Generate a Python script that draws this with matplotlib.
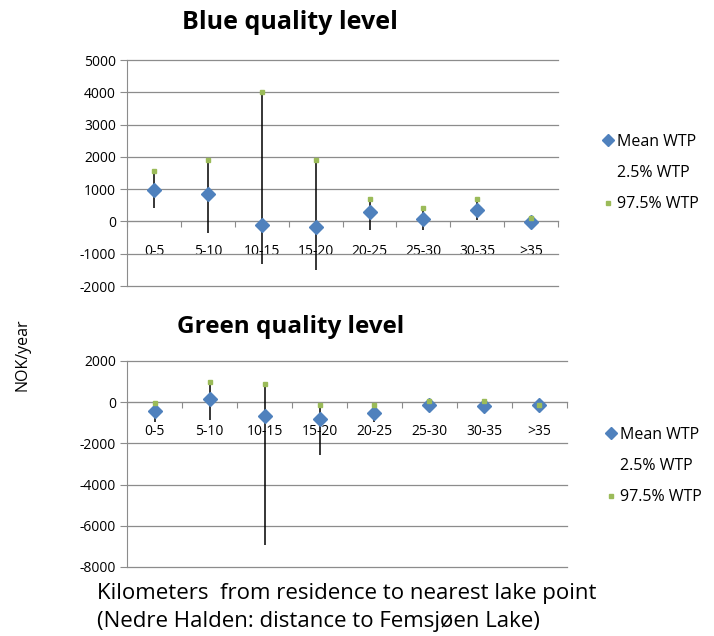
import numpy as np
import matplotlib
matplotlib.use('Agg')
import matplotlib.pyplot as plt
from matplotlib.lines import Line2D

plt.rcParams['font.family'] = ['Open Sans', 'DejaVu Sans']
plt.rcParams['axes.unicode_minus'] = False

cats = ['0-5', '5-10', '10-15', '15-20', '20-25', '25-30', '30-35', '>35']

# blue quality level (NOK/year)
blue_mean = [960, 840, -120, -170, 290, 90, 340, -20]
blue_lo = [420, -360, -1330, -1500, -250, -250, 50, -40]
blue_hi = [1550, 1910, 4000, 1910, 700, 410, 700, 100]

# green quality level (NOK/year)
green_mean = [-430, 170, -690, -830, -510, -150, -180, -150]
green_lo = [-960, -850, -6950, -2550, -960, -310, -310, -300]
green_hi = [-40, 980, 900, -120, -120, 40, 40, -120]

blue_ticks = [-2000, -1000, 0, 1000, 2000, 3000, 4000, 5000]
green_ticks = [-8000, -6000, -4000, -2000, 0, 2000]

GRID = '#8c8c8c'
MEAN_C = '#4f81bd'
HI_C = '#9bbb59'


def panel(ax, mean, lo, hi, yticks, leg_anchor):
    x = np.arange(len(cats))
    ax.vlines(x, lo, hi, color='black', linewidth=1.1, zorder=3)
    ax.plot(x, mean, linestyle='none', marker='D', markersize=7.5,
            color=MEAN_C, zorder=4)
    ax.plot(x, hi, linestyle='none', marker='s', markersize=2.6,
            color=HI_C, zorder=4)

    ax.set_xlim(-0.5, len(cats) - 0.5)
    ax.set_ylim(yticks[0], yticks[-1])
    ax.set_yticks(yticks)
    ax.set_yticklabels([str(t) for t in yticks], fontsize=10)
    ax.yaxis.grid(True, color=GRID, linewidth=0.9, clip_on=False)
    ax.set_axisbelow(True)

    for s in ['top', 'right']:
        ax.spines[s].set_visible(False)
    ax.spines['left'].set_color(GRID)
    ax.spines['bottom'].set_color(GRID)
    ax.spines['bottom'].set_position(('data', 0))

    ax.set_xticks(np.arange(-0.5, len(cats), 1.0))
    ax.set_xticklabels([])
    ax.set_xticks(x, minor=True)
    ax.set_xticklabels(cats, minor=True, fontsize=10)
    ax.tick_params(axis='x', which='major', length=4, color=GRID, direction='out')
    ax.tick_params(axis='x', which='minor', length=0, pad=16)
    ax.tick_params(axis='y', length=5, color=GRID, pad=3)

    handles = [
        Line2D([], [], linestyle='none', marker='D', markersize=6, color=MEAN_C),
        Line2D([], [], linestyle='none', marker='none', color='none'),
        Line2D([], [], linestyle='none', marker='s', markersize=2.5, color=HI_C),
    ]
    ax.legend(handles, ['Mean WTP', '2.5% WTP', '97.5% WTP'],
              loc='center left', bbox_to_anchor=leg_anchor, frameon=False,
              fontsize=11.5, handlelength=0.6, handletextpad=0.25,
              labelspacing=0.95, borderaxespad=0)


fig = plt.figure(figsize=(7.14, 6.36), dpi=100)
ax1 = fig.add_axes([0.178, 0.5503, 0.6036, 0.3553])
ax2 = fig.add_axes([0.178, 0.1085, 0.616, 0.3239])

panel(ax1, blue_mean, blue_lo, blue_hi, blue_ticks, (1.09, 0.5))
panel(ax2, green_mean, green_lo, green_hi, green_ticks, (1.075, 0.49))

fig.text(0.406, 0.965, 'Blue quality level', fontsize=18, fontweight='bold',
         ha='center', va='center')
fig.text(0.407, 0.486, 'Green quality level', fontsize=17.5, fontweight='bold',
         ha='center', va='center')
fig.text(0.031, 0.442, 'NOK/year', fontsize=11.5, rotation=90,
         ha='center', va='center')
fig.text(0.136, 1 - 593 / 636, 'Kilometers  from residence to nearest lake point',
         fontsize=16, ha='left', va='center')
fig.text(0.136, 1 - 622 / 636, '(Nedre Halden: distance to Femsjøen Lake)',
         fontsize=16, ha='left', va='center')

fig.savefig('out.png', dpi=100)
